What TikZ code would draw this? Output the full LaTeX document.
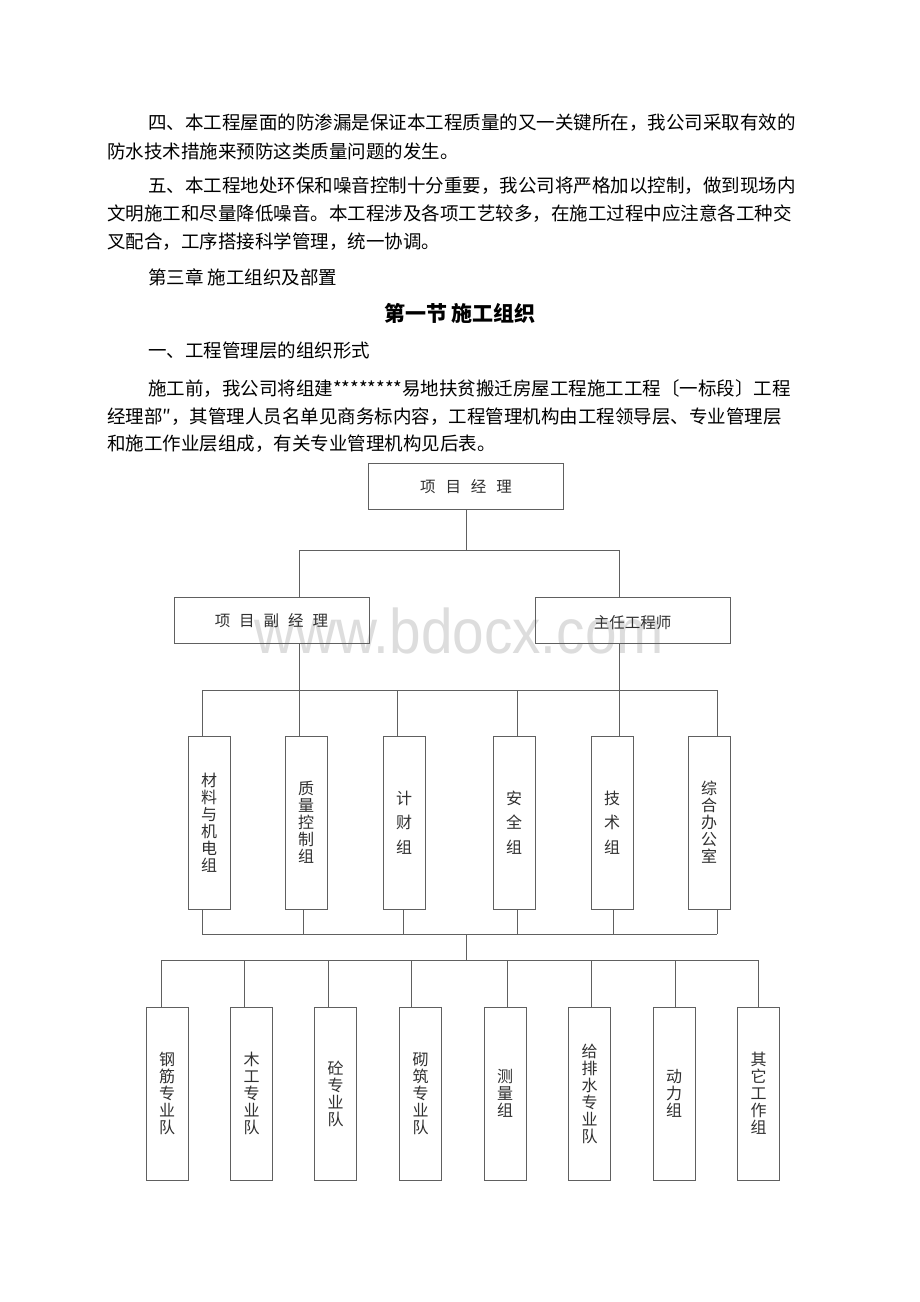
\documentclass[tikz,border=0pt]{standalone}
\usepackage{fontspec}
\setmainfont{Noto Sans CJK SC}
\newfontfamily\wmfont{Liberation Sans}
\definecolor{linegray}{HTML}{606060}
\definecolor{chartext}{HTML}{303030}
\definecolor{wmgray}{HTML}{DDDDDD}
\begin{document}
\begin{tikzpicture}[x=1pt,y=-1pt,
  bodyline/.style={anchor=west, inner sep=0pt, font=\fontsize{18.5}{18.5}\selectfont},
  hbox/.style={draw=linegray, line width=1pt, minimum height=46pt, inner sep=0pt, text=chartext, font=\fontsize{15.5}{15.5}\selectfont},
  vbox/.style={draw=linegray, line width=1pt, minimum width=42pt, minimum height=173pt, inner sep=0pt, align=center, text=chartext, font=\fontsize{16}{17}\selectfont},
  vboxwide/.style={vbox, font=\fontsize{16}{24.5}\selectfont},
  conn/.style={draw=linegray, line width=1pt}]
\fill[white] (0,0) rectangle (920,1302);
\useasboundingbox (0,0) rectangle (920,1302);

% watermark
\node[anchor=base, inner sep=0pt, text=wmgray, font=\wmfont\fontsize{63}{63}\selectfont, xscale=0.9, transform shape] (wm) at (459,653) {www.bdocx.com};

% body text
\node[bodyline] (p1a) at (148,123) {四、本工程屋面的防渗漏是保证本工程质量的又一关键所在，我公司采取有效的};
\node[bodyline] (p1b) at (107,151) {防水技术措施来预防这类质量问题的发生。};
\node[bodyline] (p2a) at (148,186) {五、本工程地处环保和噪音控制十分重要，我公司将严格加以控制，做到现场内};
\node[bodyline] (p2b) at (107,214) {文明施工和尽量降低噪音。本工程涉及各项工艺较多，在施工过程中应注意各工种交};
\node[bodyline] (p2c) at (107,242) {叉配合，工序搭接科学管理，统一协调。};
\node[bodyline] (p3) at (148,277) {第三章 施工组织及部置};
\node[anchor=center, inner sep=0pt, font=\bfseries\fontsize{21}{21}\selectfont] (title) at (460,313) {第一节 施工组织};
\node[bodyline] (p4) at (148,351) {一、工程管理层的组织形式};
\node[bodyline] (p5a) at (148,389) {施工前，我公司将组建********易地扶贫搬迁房屋工程施工工程〔一标段〕工程};
\node[bodyline] (p5b) at (107,417) {经理部″，其管理人员名单见商务标内容，工程管理机构由工程领导层、专业管理层};
\node[bodyline] (p5c) at (107,444) {和施工作业层组成，有关专业管理机构见后表。};

% top level boxes
\node[hbox, minimum width=195pt] (pm) at (466,486.5) {项\hspace{10pt}目\hspace{10pt}经\hspace{10pt}理};
\node[hbox, minimum width=195pt] (dpm) at (271.5,620.5) {项\hspace{9pt}目\hspace{9pt}副\hspace{9pt}经\hspace{9pt}理};
\node[hbox, minimum width=195pt, text depth=0pt] (ce) at (632.5,620.5) {\raisebox{-2pt}{主任工程师}};

% group boxes
\node[vbox] (g1) at (209,822.5) {材\\料\\与\\机\\电\\组};
\node[vbox] (g2) at (306,822.5) {质\\量\\控\\制\\组};
\node[vboxwide] (g3) at (404,822.5) {计\\财\\组};
\node[vboxwide] (g4) at (514,822.5) {安\\全\\组};
\node[vboxwide] (g5) at (612,822.5) {技\\术\\组};
\node[vbox] (g6) at (709,822.5) {综\\合\\办\\公\\室};

% team boxes
\node[vbox] (t1) at (167,1093.5) {钢\\筋\\专\\业\\队};
\node[vbox] (t2) at (251.5,1093.5) {木\\工\\专\\业\\队};
\node[vbox] (t3) at (335.5,1093.5) {砼\\专\\业\\队};
\node[vbox] (t4) at (420.5,1093.5) {砌\\筑\\专\\业\\队};
\node[vbox] (t5) at (505,1093.5) {测\\量\\组};
\node[vbox] (t6) at (589.5,1093.5) {给\\排\\水\\专\\业\\队};
\node[vbox] (t7) at (674,1093.5) {动\\力\\组};
\node[vbox] (t8) at (758.5,1093.5) {其\\它\\工\\作\\组};

% bus coordinates
\coordinate (b1) at (466,550);
\coordinate (b1l) at (299,550);
\coordinate (b1r) at (619,550);
\coordinate (b2l) at (202,690);
\coordinate (b2r) at (717,690);
\coordinate (b3l) at (202,934);
\coordinate (b3r) at (717,934);
\coordinate (b3c) at (466,934);
\coordinate (b4c) at (466,960);
\coordinate (b4l) at (161,960);
\coordinate (b4r) at (758,960);

% level 1 connectors
\draw[conn] (pm.south) -- (b1);
\draw[conn] (b1l) -- (b1r);
\draw[conn] (b1l) -- (b1l |- dpm.north);
\draw[conn] (b1r) -- (b1r |- ce.north);

% level 2 connectors
\draw[conn] (b1l |- dpm.south) -- (b1l |- b2l);
\draw[conn] (b1r |- ce.south) -- (b1r |- b2l);
\draw[conn] (b2l) -- (b2r);
\foreach \n/\x in {g1/202,g2/299,g3/397,g4/517,g5/619,g6/717}
  \draw[conn] (\x,690) -- (\x,0 |- \n.north);

% level 3 connectors
\foreach \n/\x in {g1/202,g2/303,g3/403,g4/517,g5/613,g6/717}
  \draw[conn] (\x,0 |- \n.south) -- (\x,934);
\draw[conn] (b3l) -- (b3r);
\draw[conn] (b3c) -- (b4c);
\draw[conn] (b4l) -- (b4r);
\foreach \n/\x in {t1/161,t2/244,t3/328,t4/411,t5/507,t6/591,t7/675,t8/758}
  \draw[conn] (\x,960) -- (\x,0 |- \n.north);
\end{tikzpicture}
\end{document}
